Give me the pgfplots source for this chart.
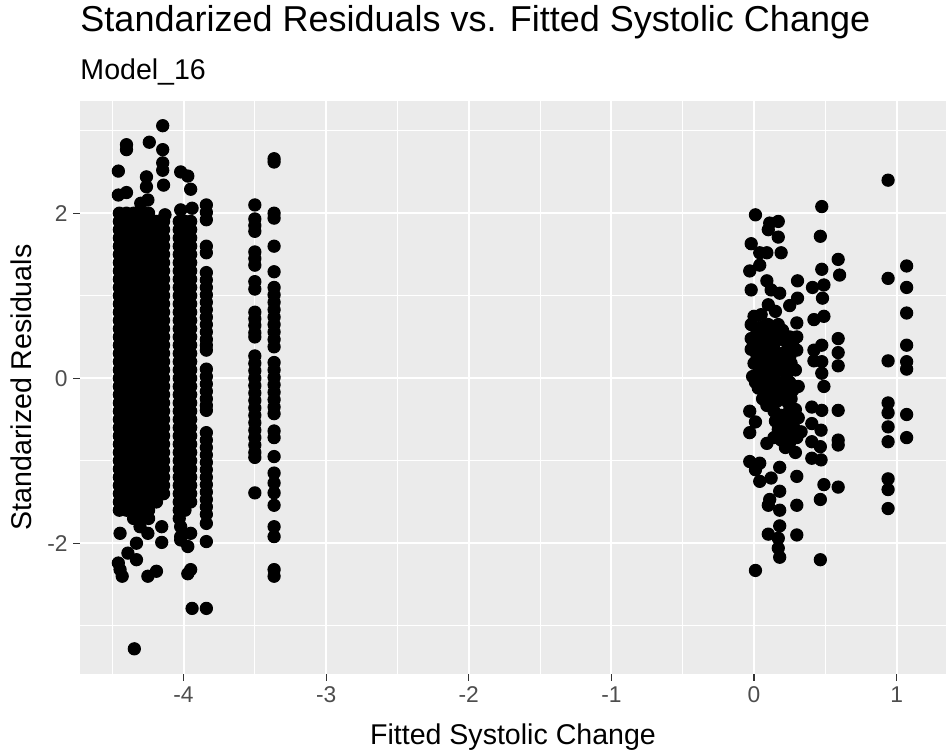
\documentclass[border=0pt]{standalone}
\usepackage{fontspec}
\setmainfont{Liberation Sans}
\usepackage{pgfplots}
\pgfplotsset{compat=1.18}
\definecolor{panelbg}{HTML}{EBEBEB}
\definecolor{tickcol}{HTML}{333333}
\definecolor{labcol}{HTML}{4D4D4D}
\pgfplotsset{resid/.style={only marks, mark=*, mark size=2.56pt,
  mark options={fill=black, draw=none}}}
\begin{document}
\begin{tikzpicture}
% page frame, axis box south west corner at the origin
\useasboundingbox (-33.33pt,-31.67pt) rectangle (360.83pt,280.83pt);
\begin{axis}[
  scale only axis, width=360.83pt, height=238.75pt,
  xmin=-4.726, xmax=1.346, ymin=-3.585, ymax=3.36,
  axis background/.style={fill=panelbg},
  axis line style={draw=none},
  xtick={-4,-3,-2,-1,0,1}, xticklabels={-4,-3,-2,-1,0,1},
  ytick={-2,0,2}, yticklabels={-2,0,2},
  minor xtick={-4.5,-3.5,-2.5,-1.5,-0.5,0.5},
  minor ytick={-3,-1,1,3},
  grid=both,
  major grid style={white, line width=0.85pt},
  minor grid style={white, line width=0.42pt},
  tick align=outside, xtick pos=bottom, ytick pos=left,
  major tick length=2.75pt, minor tick length=0pt,
  every tick/.style={tickcol, line width=0.45pt},
  tick label style={font=\fontsize{9.5}{11}\selectfont, text=labcol, inner sep=0pt},
  xticklabel style={yshift=-2.2pt},
  yticklabel style={xshift=-2.2pt},
]
% block near -4.45 .. -4.14 and block near -4.0
\addplot[resid] coordinates {
(-4.45,2.0) (-4.40,2.0) (-4.35,2.0) (-4.30,2.0) (-4.245,2.0)
(-4.45,1.9) (-4.40,1.9) (-4.35,1.9) (-4.30,1.9) (-4.245,1.9) (-4.19,1.9) (-4.14,1.9) (-4.03,1.9) (-3.99,1.9) (-3.95,1.9)
(-4.45,1.8) (-4.40,1.8) (-4.35,1.8) (-4.30,1.8) (-4.245,1.8) (-4.19,1.8) (-4.14,1.8) (-4.03,1.8) (-3.99,1.8) (-3.95,1.8)
(-4.45,1.7) (-4.40,1.7) (-4.35,1.7) (-4.30,1.7) (-4.245,1.7) (-4.19,1.7) (-4.14,1.7) (-4.03,1.7) (-3.99,1.7) (-3.95,1.7)
(-4.45,1.6) (-4.40,1.6) (-4.35,1.6) (-4.30,1.6) (-4.245,1.6) (-4.19,1.6) (-4.14,1.6) (-4.03,1.6) (-3.99,1.6) (-3.95,1.6)
(-4.45,1.5) (-4.40,1.5) (-4.35,1.5) (-4.30,1.5) (-4.245,1.5) (-4.19,1.5) (-4.14,1.5) (-4.03,1.5) (-3.99,1.5) (-3.95,1.5)
(-4.45,1.4) (-4.40,1.4) (-4.35,1.4) (-4.30,1.4) (-4.245,1.4) (-4.19,1.4) (-4.14,1.4) (-4.03,1.4) (-3.99,1.4) (-3.95,1.4)
(-4.45,1.3) (-4.40,1.3) (-4.35,1.3) (-4.30,1.3) (-4.245,1.3) (-4.19,1.3) (-4.14,1.3) (-4.03,1.3) (-3.99,1.3) (-3.95,1.3)
(-4.45,1.2) (-4.40,1.2) (-4.35,1.2) (-4.30,1.2) (-4.245,1.2) (-4.19,1.2) (-4.14,1.2) (-4.03,1.2) (-3.99,1.2) (-3.95,1.2)
(-4.45,1.1) (-4.40,1.1) (-4.35,1.1) (-4.30,1.1) (-4.245,1.1) (-4.19,1.1) (-4.14,1.1) (-4.03,1.1) (-3.99,1.1) (-3.95,1.1)
(-4.45,1.0) (-4.40,1.0) (-4.35,1.0) (-4.30,1.0) (-4.245,1.0) (-4.19,1.0) (-4.14,1.0) (-4.03,1.0) (-3.99,1.0) (-3.95,1.0)
(-4.45,0.9) (-4.40,0.9) (-4.35,0.9) (-4.30,0.9) (-4.245,0.9) (-4.19,0.9) (-4.14,0.9) (-4.03,0.9) (-3.99,0.9) (-3.95,0.9)
(-4.45,0.8) (-4.40,0.8) (-4.35,0.8) (-4.30,0.8) (-4.245,0.8) (-4.19,0.8) (-4.14,0.8) (-4.03,0.8) (-3.99,0.8) (-3.95,0.8)
(-4.45,0.7) (-4.40,0.7) (-4.35,0.7) (-4.30,0.7) (-4.245,0.7) (-4.19,0.7) (-4.14,0.7) (-4.03,0.7) (-3.99,0.7) (-3.95,0.7)
(-4.45,0.6) (-4.40,0.6) (-4.35,0.6) (-4.30,0.6) (-4.245,0.6) (-4.19,0.6) (-4.14,0.6) (-4.03,0.6) (-3.99,0.6) (-3.95,0.6)
(-4.45,0.5) (-4.40,0.5) (-4.35,0.5) (-4.30,0.5) (-4.245,0.5) (-4.19,0.5) (-4.14,0.5) (-4.03,0.5) (-3.99,0.5) (-3.95,0.5)
(-4.45,0.4) (-4.40,0.4) (-4.35,0.4) (-4.30,0.4) (-4.245,0.4) (-4.19,0.4) (-4.14,0.4) (-4.03,0.4) (-3.99,0.4) (-3.95,0.4)
(-4.45,0.3) (-4.40,0.3) (-4.35,0.3) (-4.30,0.3) (-4.245,0.3) (-4.19,0.3) (-4.14,0.3) (-4.03,0.3) (-3.99,0.3) (-3.95,0.3)
(-4.45,0.2) (-4.40,0.2) (-4.35,0.2) (-4.30,0.2) (-4.245,0.2) (-4.19,0.2) (-4.14,0.2) (-4.03,0.2) (-3.99,0.2) (-3.95,0.2)
(-4.45,0.1) (-4.40,0.1) (-4.35,0.1) (-4.30,0.1) (-4.245,0.1) (-4.19,0.1) (-4.14,0.1) (-4.03,0.1) (-3.99,0.1) (-3.95,0.1)
(-4.45,0.0) (-4.40,0.0) (-4.35,0.0) (-4.30,0.0) (-4.245,0.0) (-4.19,0.0) (-4.14,0.0) (-4.03,0.0) (-3.99,0.0) (-3.95,0.0)
(-4.45,-0.1) (-4.40,-0.1) (-4.35,-0.1) (-4.30,-0.1) (-4.245,-0.1) (-4.19,-0.1) (-4.14,-0.1) (-4.03,-0.1) (-3.99,-0.1) (-3.95,-0.1)
(-4.45,-0.2) (-4.40,-0.2) (-4.35,-0.2) (-4.30,-0.2) (-4.245,-0.2) (-4.19,-0.2) (-4.14,-0.2) (-4.03,-0.2) (-3.99,-0.2) (-3.95,-0.2)
(-4.45,-0.3) (-4.40,-0.3) (-4.35,-0.3) (-4.30,-0.3) (-4.245,-0.3) (-4.19,-0.3) (-4.14,-0.3) (-4.03,-0.3) (-3.99,-0.3) (-3.95,-0.3)
(-4.45,-0.4) (-4.40,-0.4) (-4.35,-0.4) (-4.30,-0.4) (-4.245,-0.4) (-4.19,-0.4) (-4.14,-0.4) (-4.03,-0.4) (-3.99,-0.4) (-3.95,-0.4)
(-4.45,-0.5) (-4.40,-0.5) (-4.35,-0.5) (-4.30,-0.5) (-4.245,-0.5) (-4.19,-0.5) (-4.14,-0.5) (-4.03,-0.5) (-3.99,-0.5) (-3.95,-0.5)
(-4.45,-0.6) (-4.40,-0.6) (-4.35,-0.6) (-4.30,-0.6) (-4.245,-0.6) (-4.19,-0.6) (-4.14,-0.6) (-4.03,-0.6) (-3.99,-0.6) (-3.95,-0.6)
(-4.45,-0.7) (-4.40,-0.7) (-4.35,-0.7) (-4.30,-0.7) (-4.245,-0.7) (-4.19,-0.7) (-4.14,-0.7) (-4.03,-0.7) (-3.99,-0.7) (-3.95,-0.7)
(-4.45,-0.8) (-4.40,-0.8) (-4.35,-0.8) (-4.30,-0.8) (-4.245,-0.8) (-4.19,-0.8) (-4.14,-0.8) (-4.03,-0.8) (-3.99,-0.8) (-3.95,-0.8)
(-4.45,-0.9) (-4.40,-0.9) (-4.35,-0.9) (-4.30,-0.9) (-4.245,-0.9) (-4.19,-0.9) (-4.14,-0.9) (-4.03,-0.9) (-3.99,-0.9) (-3.95,-0.9)
(-4.45,-1.0) (-4.40,-1.0) (-4.35,-1.0) (-4.30,-1.0) (-4.245,-1.0) (-4.19,-1.0) (-4.14,-1.0) (-4.03,-1.0) (-3.99,-1.0) (-3.95,-1.0)
(-4.45,-1.1) (-4.40,-1.1) (-4.35,-1.1) (-4.30,-1.1) (-4.245,-1.1) (-4.19,-1.1) (-4.14,-1.1) (-4.03,-1.1) (-3.99,-1.1) (-3.95,-1.1)
(-4.45,-1.2) (-4.40,-1.2) (-4.35,-1.2) (-4.30,-1.2) (-4.245,-1.2) (-4.19,-1.2) (-4.14,-1.2) (-4.03,-1.2) (-3.99,-1.2) (-3.95,-1.2)
(-4.45,-1.3) (-4.40,-1.3) (-4.35,-1.3) (-4.30,-1.3) (-4.245,-1.3) (-4.19,-1.3) (-4.14,-1.3) (-4.03,-1.3) (-3.99,-1.3) (-3.95,-1.3)
(-4.45,-1.4) (-4.40,-1.4) (-4.35,-1.4) (-4.30,-1.4) (-4.245,-1.4) (-4.19,-1.4) (-4.14,-1.4) (-4.03,-1.4) (-3.99,-1.4) (-3.95,-1.4)
(-4.45,-1.5) (-4.40,-1.5) (-4.35,-1.5) (-4.30,-1.5) (-4.245,-1.5) (-4.19,-1.5) (-4.03,-1.5) (-3.99,-1.5) (-3.95,-1.5)
(-4.45,-1.6) (-4.40,-1.6) (-4.35,-1.6) (-4.30,-1.6) (-4.245,-1.6) (-4.03,-1.6) (-3.99,-1.6)
(-4.35,-1.7) (-4.30,-1.7) (-4.245,-1.7) (-4.03,-1.7)
};
% scattered points around the two blocks
\addplot[resid] coordinates {
(-4.146,3.06) (-4.40,2.83) (-4.40,2.77) (-4.24,2.86) (-4.146,2.77) (-4.146,2.61)
(-4.146,2.52) (-4.14,2.34) (-4.457,2.51) (-4.26,2.44) (-4.26,2.32) (-4.457,2.22)
(-4.40,2.25) (-4.30,2.12) (-4.25,2.16) (-4.13,1.98)
(-4.02,2.50) (-3.97,2.45) (-3.95,2.29) (-4.02,2.04) (-3.94,2.06)
(-4.445,-1.88) (-4.305,-1.80) (-4.25,-1.88) (-4.153,-1.80) (-4.153,-1.99)
(-4.33,-2.00) (-4.39,-2.12) (-4.33,-2.20) (-4.457,-2.24) (-4.445,-2.32) (-4.43,-2.40)
(-4.25,-2.40) (-4.19,-2.34) (-4.345,-3.28)
(-4.02,-1.80) (-4.02,-1.92) (-3.95,-1.88) (-3.97,-2.04) (-4.02,-1.96)
(-3.95,-2.32) (-3.97,-2.37) (-3.94,-2.79)
};
% columns near -3.84, -3.50 and -3.37
\addplot[resid] coordinates {
(-3.84,2.10) (-3.84,2.01) (-3.84,1.92) (-3.84,1.60) (-3.84,1.52) (-3.84,1.28)
(-3.84,1.19) (-3.84,1.10) (-3.84,1.01) (-3.84,0.92) (-3.84,0.83) (-3.84,0.74)
(-3.84,0.65) (-3.84,0.56) (-3.84,0.47) (-3.84,0.40) (-3.84,0.34) (-3.84,0.11)
(-3.84,0.02) (-3.84,-0.07) (-3.84,-0.16) (-3.84,-0.25) (-3.84,-0.33) (-3.84,-0.39)
(-3.84,-0.66) (-3.84,-0.75) (-3.84,-0.84) (-3.84,-0.93) (-3.84,-1.02) (-3.84,-1.11)
(-3.84,-1.20) (-3.84,-1.29) (-3.84,-1.38) (-3.84,-1.47) (-3.84,-1.56) (-3.84,-1.65)
(-3.84,-1.76) (-3.84,-1.98) (-3.84,-2.79)
(-3.50,2.10) (-3.50,1.93) (-3.50,1.85) (-3.50,1.78) (-3.50,1.53) (-3.50,1.45)
(-3.50,1.37) (-3.50,1.17) (-3.50,1.08) (-3.50,0.80) (-3.50,0.72) (-3.50,0.64)
(-3.50,0.55) (-3.50,0.50) (-3.50,0.27) (-3.50,0.18) (-3.50,0.09) (-3.50,0.00)
(-3.50,-0.09) (-3.50,-0.18) (-3.50,-0.27) (-3.50,-0.36) (-3.50,-0.45) (-3.50,-0.54)
(-3.50,-0.63) (-3.50,-0.72) (-3.50,-0.81) (-3.50,-0.90) (-3.50,-0.96) (-3.50,-1.39)
(-3.365,2.66) (-3.365,2.62) (-3.365,2.00) (-3.365,1.94) (-3.365,1.60) (-3.365,1.29)
(-3.365,1.10) (-3.365,1.01) (-3.365,0.92) (-3.365,0.83) (-3.365,0.74) (-3.365,0.65)
(-3.365,0.56) (-3.365,0.47) (-3.365,0.38) (-3.365,0.19) (-3.365,0.10) (-3.365,0.01)
(-3.365,-0.08) (-3.365,-0.17) (-3.365,-0.26) (-3.365,-0.35) (-3.365,-0.43) (-3.365,-0.64)
(-3.365,-0.72) (-3.365,-0.95) (-3.365,-1.15) (-3.365,-1.27) (-3.365,-1.39) (-3.365,-1.54)
(-3.365,-1.80) (-3.365,-1.92) (-3.365,-2.32) (-3.365,-2.40)
};
% right-hand cluster
\addplot[resid] coordinates {
(0.01,1.98) (-0.02,1.63) (0.04,1.52) (0.04,1.37) (-0.03,1.30) (-0.02,1.07)
(0.00,0.75) (0.05,0.77) (-0.02,0.65) (0.05,0.62) (-0.02,0.48) (0.03,0.45)
(-0.02,0.35) (0.02,0.28) (0.00,0.18) (0.04,0.12) (-0.01,0.02) (0.01,-0.05)
(0.03,-0.12) (-0.03,-0.40) (0.01,-0.53) (-0.03,-0.66) (-0.03,-1.01) (0.04,-1.03)
(0.01,-1.11) (0.04,-1.25) (0.01,-2.33)
(0.11,1.88) (0.17,1.90) (0.10,1.80) (0.17,1.71) (0.09,1.52) (0.19,1.52)
(0.09,1.18) (0.12,1.07) (0.18,1.03) (0.10,0.89) (0.15,0.81) (0.10,0.65)
(0.17,0.65) (0.12,0.55) (0.18,0.48) (0.08,0.40) (0.14,0.35) (0.20,0.30)
(0.10,0.22) (0.16,0.18) (0.22,0.12) (0.08,0.05) (0.13,0.00) (0.19,-0.05)
(0.13,-0.15) (0.18,-0.10) (0.11,-0.22) (0.16,-0.28) (0.22,-0.20)
(0.09,-0.79) (0.18,-1.08) (0.12,-1.21) (0.18,-1.37) (0.11,-1.47) (0.10,-1.54)
(0.18,-1.60) (0.18,-1.79) (0.10,-1.89) (0.17,-1.94) (0.17,-2.06) (0.18,-2.17)
(0.14,-0.40) (0.19,-0.45) (0.24,-0.42) (0.29,-0.38) (0.15,-0.52) (0.20,-0.55)
(0.25,-0.50) (0.31,-0.48) (0.17,-0.62) (0.22,-0.66) (0.28,-0.60) (0.33,-0.65)
(0.14,-0.72) (0.19,-0.75) (0.25,-0.78) (0.30,-0.72) (0.22,-0.84) (0.29,-0.90)
(0.305,1.18) (0.305,0.97) (0.25,0.88) (0.30,0.67) (0.30,0.50) (0.30,0.34)
(0.25,0.25) (0.29,0.10) (0.25,-0.05) (0.31,-0.10) (0.26,-0.25) (0.30,-1.19)
(0.30,-1.54) (0.30,-1.90)
(0.02,0.58) (0.07,0.52) (0.12,0.60) (0.20,0.58) (0.25,0.50) (0.03,0.40)
(0.09,0.44) (0.15,0.45) (0.21,0.46) (0.27,0.42) (0.05,0.32) (0.11,0.30)
(0.17,0.28) (0.23,0.33) (0.02,0.22) (0.08,0.18) (0.14,0.22) (0.20,0.20)
(0.26,0.18) (0.05,0.10) (0.11,0.08) (0.17,0.10) (0.23,0.05) (0.03,0.00)
(0.09,-0.03) (0.15,-0.06) (0.21,-0.12) (0.27,-0.15) (0.06,-0.14) (0.12,-0.12)
(0.06,-0.25) (0.18,-0.25) (0.24,-0.30) (0.09,-0.33)
(0.475,2.08) (0.465,1.72) (0.475,1.32) (0.41,1.10) (0.49,1.13) (0.48,0.97)
(0.42,0.71) (0.49,0.75) (0.42,0.34) (0.475,0.40) (0.42,0.21) (0.475,0.20)
(0.475,0.06) (0.49,-0.10) (0.405,-0.35) (0.475,-0.39) (0.405,-0.55) (0.47,-0.63)
(0.405,-0.77) (0.465,-0.83) (0.405,-0.97) (0.47,-0.99) (0.49,-1.29) (0.465,-1.47)
(0.465,-2.20)
(0.59,1.44) (0.60,1.25) (0.59,0.48) (0.59,0.31) (0.59,0.15) (0.59,-0.39)
(0.59,-0.75) (0.59,-0.81) (0.59,-1.32)
(0.94,2.40) (0.94,1.21) (0.94,0.21) (0.94,-0.30) (0.94,-0.42) (0.94,-0.59)
(0.94,-0.77) (0.94,-1.22) (0.94,-1.35) (0.94,-1.58)
(1.07,1.36) (1.07,1.10) (1.07,0.79) (1.07,0.40) (1.07,0.20) (1.07,0.11)
(1.07,-0.44) (1.07,-0.72)
};
\end{axis}
\node[anchor=base west, inner sep=0pt, font=\fontsize{15}{18}\selectfont] at (0pt,267.6pt)
  {Standarized Residuals vs. Fitted Systolic Change};
\node[anchor=base west, inner sep=0pt, font=\fontsize{11.9}{14}\selectfont] at (0pt,247.9pt)
  {Model\_16};
\node[anchor=base, inner sep=0pt, font=\fontsize{11.9}{14}\selectfont] at (180.4pt,-29.2pt)
  {Fitted Systolic Change};
\node[anchor=base, rotate=90, inner sep=0pt, font=\fontsize{11.9}{14}\selectfont] at (-20.4pt,119.4pt)
  {Standarized Residuals};
\end{tikzpicture}
\end{document}
